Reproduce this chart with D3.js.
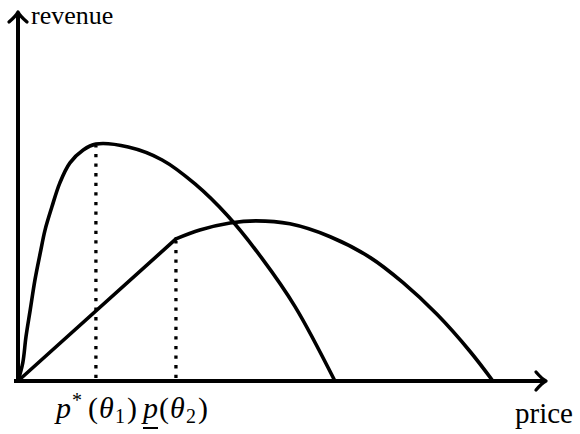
<!DOCTYPE html>
<html>
<head>
<meta charset="utf-8">
<script src="https://cdn.jsdelivr.net/npm/d3@7"></script>
<style>
body { margin: 0; background: #fff; }
text { font-family: "Liberation Serif", serif; fill: #000; }
</style>
</head>
<body>
<svg width="580" height="434"></svg>
<script>
// points, price and revenue on a 0-100 scale
const highPrice = [0, 0.9, 1.5, 2.3, 3.2, 4.2, 5.1, 6.4, 7.9, 9.8, 12.3, 14.7, 20.8, 27.2, 33.4, 39.6, 46.0, 52.3, 59.8];
const highRevenue = [0, 4.9, 11.9, 19.2, 27.4, 34.7, 40.9, 47.2, 53.7, 59.1, 62.6, 64.2, 63.4, 59.9, 53.4, 44.7, 33.3, 20.1, 0];

const lowLinePrice = [0, 29.8];
const lowLineRevenue = [0, 38.5];
const lowPrice = [29.8, 34.3, 40.0, 44.9, 51.3, 58.9, 66.4, 72.6, 79.1, 85.3, 89.6];
const lowRevenue = [38.5, 40.9, 42.8, 43.4, 42.6, 39.1, 33.5, 26.7, 18.0, 8.0, 0];

// dotted drop lines
const markPrice = [14.7, 29.8];
const markRevenue = [64.2, 38.5];

const axisLabels = ["price", "revenue"];

const svg = d3.select("svg");

const x = d3.scaleLinear().domain([0, 100]).range([18, 548]);
const y = d3.scaleLinear().domain([0, 100]).range([381, 12]);

const zip = (a, b) => a.map((v, i) => [v, b[i]]);

const line = d3.line()
    .x(d => x(d[0]))
    .y(d => y(d[1]));

svg.append("defs").append("marker")
    .attr("id", "arr")
    .attr("viewBox", "-13 -12 16 24")
    .attr("refX", 0).attr("refY", 0)
    .attr("markerWidth", 16).attr("markerHeight", 24)
    .attr("markerUnits", "userSpaceOnUse")
    .attr("orient", "auto")
  .append("path")
    .attr("d", "M-10,-9 Q-4,-2 0,0 Q-4,2 -10,9")
    .attr("fill", "none")
    .attr("stroke", "#000")
    .attr("stroke-width", 3.3)
    .attr("stroke-linecap", "round")
    .attr("stroke-linejoin", "round");

// dotted lines first so curves sit on top
svg.selectAll(".drop")
    .data(zip(markPrice, markRevenue))
    .enter().append("line")
    .attr("class", "drop")
    .attr("x1", d => x(d[0])).attr("x2", d => x(d[0]))
    .attr("y1", y(0) - 3).attr("y2", d => y(d[1]) + 2)
    .attr("stroke", "#000")
    .attr("stroke-width", 3.3)
    .attr("stroke-dasharray", "3.3,6.3");

// axes
svg.append("line")
    .attr("x1", x(0) - 4).attr("y1", y(0))
    .attr("x2", x(100) - 2).attr("y2", y(0))
    .attr("stroke", "#000").attr("stroke-width", 4)
    .attr("marker-end", "url(#arr)");

svg.append("line")
    .attr("x1", x(0)).attr("y1", y(0) + 1.5)
    .attr("x2", x(0)).attr("y2", y(100))
    .attr("stroke", "#000").attr("stroke-width", 4)
    .attr("marker-end", "url(#arr)");

// revenue curves
const curves = [
    {pts: zip(highPrice, highRevenue), curve: d3.curveCatmullRom.alpha(0.5)},
    {pts: zip(lowLinePrice, lowLineRevenue), curve: d3.curveLinear},
    {pts: zip(lowPrice, lowRevenue), curve: d3.curveCatmullRom.alpha(0.5)}
];

svg.selectAll(".rev")
    .data(curves)
    .enter().append("path")
    .attr("class", "rev")
    .attr("d", d => line.curve(d.curve)(d.pts))
    .attr("fill", "none")
    .attr("stroke", "#000")
    .attr("stroke-width", 3.6)
    .attr("stroke-linejoin", "round")
    .attr("stroke-linecap", "round");

// axis labels
svg.append("text")
    .attr("x", 515).attr("y", 423)
    .attr("font-size", 29)
    .text(axisLabels[0]);

svg.append("text")
    .attr("x", 31).attr("y", 24)
    .attr("font-size", 26)
    .text(axisLabels[1]);

// price labels under the dotted lines
const lab1 = svg.append("text")
    .attr("y", 418)
    .attr("font-size", 30);
lab1.append("tspan").attr("x", 56).attr("font-style", "italic").text("p");
lab1.append("tspan").attr("x", 72).attr("font-size", 20).attr("dy", -11).text("*");
lab1.append("tspan").attr("x", 88).attr("dy", 11).text("(");
lab1.append("tspan").attr("x", 99).attr("font-style", "italic").text("θ");
lab1.append("tspan").attr("x", 115).attr("font-size", 20).attr("dy", 5).text("1");
lab1.append("tspan").attr("x", 127).attr("dy", -5).text(")");

const lab2 = svg.append("text")
    .attr("y", 418)
    .attr("font-size", 30);
lab2.append("tspan").attr("x", 143).attr("font-style", "italic").text("p");
lab2.append("tspan").attr("x", 159).text("(");
lab2.append("tspan").attr("x", 170).attr("font-style", "italic").text("θ");
lab2.append("tspan").attr("x", 186).attr("font-size", 20).attr("dy", 5).text("2");
lab2.append("tspan").attr("x", 198).attr("dy", -5).text(")");

const pw = lab2.node().getSubStringLength(0, 1);
svg.append("line")
    .attr("x1", 143).attr("x2", 143 + pw)
    .attr("y1", 428).attr("y2", 428)
    .attr("stroke", "#000").attr("stroke-width", 2);
</script>
</body>
</html>
